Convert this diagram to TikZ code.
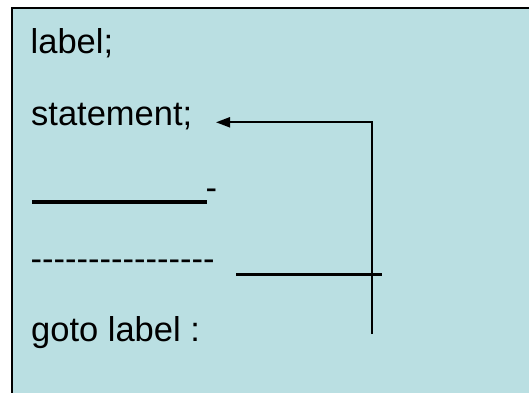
\documentclass[tikz,border=0pt]{standalone}
\usepackage{fontspec}
\setmainfont{Liberation Sans}
\usetikzlibrary{arrows.meta}
\definecolor{panelfill}{RGB}{186,223,226}
% a single hyphen, boxed so that runs of them stay plain hyphens
\newcommand{\onehyph}{\mbox{-}}
\tikzset{
  codeline/.style={anchor=base west, inner sep=0pt, font=\fontsize{34.5bp}{40bp}\selectfont},
  rule/.style={line width=4bp, line cap=butt},
  jump/.style={line width=2bp, -{Triangle[length=14bp,width=10bp]}}
}
\begin{document}
\begin{tikzpicture}[x=1bp, y=-1bp]
  % page extent
  \useasboundingbox (0,0) rectangle (529,392);
  \fill[white] (0,0) rectangle (529,392);
  % panel, running off the right and bottom edges
  \begin{scope}
    \clip (0,0) rectangle (529,392);
    \filldraw[fill=panelfill, draw=black, line width=1.6bp] (12,8) rectangle (540,400);
  \end{scope}

  % program text
  \node[codeline] (lbl) at (30.5,53.3) {label;};
  \node[codeline] (stmt) at (31,125) {statement;};
  \node[codeline] (dash) at (205.5,199) {-};
  \node[codeline] (dots) at (30.5,270) {\onehyph\onehyph\onehyph\onehyph\onehyph\onehyph\onehyph\onehyph\onehyph\onehyph\onehyph\onehyph\onehyph\onehyph\onehyph\onehyph};
  \node[codeline] (gt) at (31,341.7) {goto label :};

  % blank lines drawn as rules
  \coordinate (r1a) at (32,202);
  \coordinate (r1b) at (207,202);
  \draw[rule] (r1a) -- (r1b);
  \coordinate (r2a) at (236,274.5);
  \coordinate (r2b) at (382,274.5);
  \draw[rule, line width=3.5bp] (r2a) -- (r2b);

  % jump from goto back to the label
  \coordinate (from) at (372.3,334);
  \coordinate (bend) at (372.3,122.3);
  \coordinate (to) at (216,122.3);
  \draw[jump] (from) -- (bend) -- (to);
\end{tikzpicture}
\end{document}
